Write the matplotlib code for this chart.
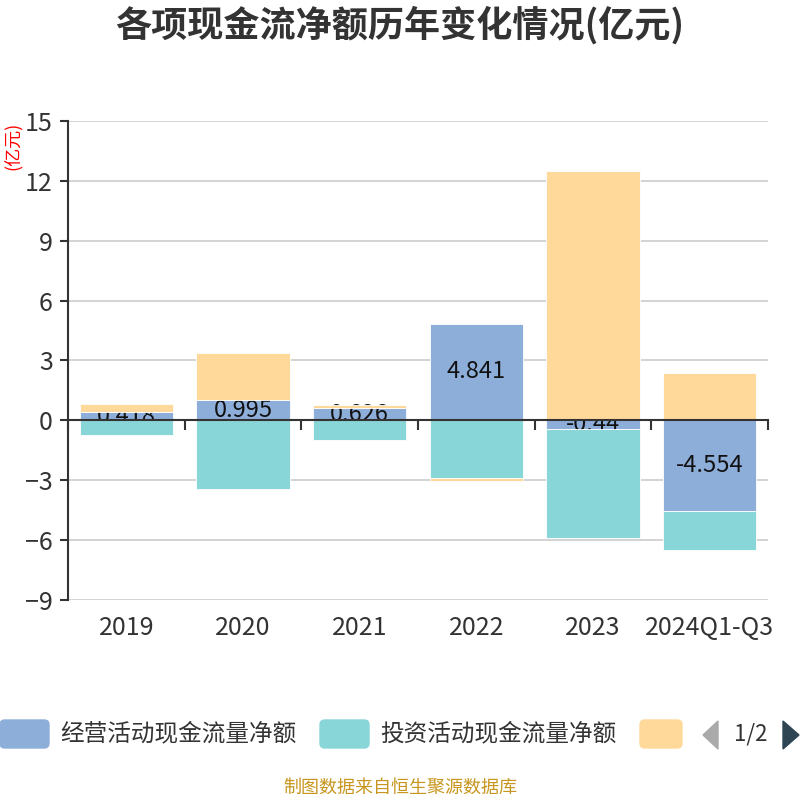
import numpy as np
import matplotlib.pyplot as plt
from matplotlib.patches import FancyBboxPatch, Polygon

plt.rcParams['font.family'] = ['Noto Sans CJK SC', 'DejaVu Sans']

years = ['2019', '2020', '2021', '2022', '2023', '2024Q1-Q3']
operating = [0.418, 0.995, 0.626, 4.841, -0.44, -4.554]
investing = [-0.72, -3.45, -1.0, -2.87, -5.43, -1.95]
financing = [0.42, 2.39, 0.16, -0.18, 12.47, 2.37]
names = ['经营活动现金流量净额', '投资活动现金流量净额', '筹资活动现金流量净额']
colors = ['#8eaeda', '#88d6d8', '#fed99a']

fig = plt.figure(figsize=(8, 8), dpi=100)
ax = fig.add_axes([0.085, 0.25, 0.875, 0.599])

x = np.arange(len(years))
w = 0.8
pos_base = np.zeros(len(years))
neg_base = np.zeros(len(years))
zs = [2, 3, 3]
for k, vals in enumerate([operating, investing, financing]):
	vals = np.array(vals)
	bottom = np.where(vals >= 0, pos_base, neg_base)
	ax.bar(x, vals, w, bottom=bottom, color=colors[k], edgecolor='white', linewidth=0.6, zorder=zs[k])
	if k == 0:
		for i, v in enumerate(vals):
			ax.text(x[i], bottom[i] + v / 2, f'{v:g}', ha='center', va='center', fontsize=17, color='#111111', zorder=2.5)
	pos_base = pos_base + np.where(vals >= 0, vals, 0)
	neg_base = neg_base + np.where(vals < 0, vals, 0)

ax.set_xlim(-0.5, len(years) - 0.5)
ax.set_ylim(-9, 15)
ax.set_yticks(np.arange(-9, 16, 3))
ax.yaxis.grid(True, color='#cccccc', linewidth=1.2)
ax.set_axisbelow(True)
for s in ['top', 'right', 'bottom']:
	ax.spines[s].set_visible(False)
ax.spines['left'].set_color('#333333')
ax.spines['left'].set_linewidth(1.5)
ax.tick_params(axis='y', length=6, width=1.5, color='#333333', labelsize=18, labelcolor='#333333', pad=5)
ax.set_xticks(x)
ax.set_xticklabels(years)
ax.tick_params(axis='x', length=0, labelsize=18, labelcolor='#333333', pad=11)

# zero axis line with boundary ticks
zero = ax.secondary_xaxis(9 / 24)
zero.set_xticks(np.arange(-0.5, len(years), 1))
zero.set_xticklabels([])
zero.tick_params(length=7, width=1.5, color='#333333', direction='out')
zero.spines['bottom'].set_color('#333333')
zero.spines['bottom'].set_linewidth(1.5)
zero.set_zorder(5)

ax.set_ylabel('(亿元)', color='red', fontsize=13)
ax.yaxis.set_label_coords(-0.066, 0.948)

fig.text(0.5, 0.968, '各项现金流净额历年变化情况(亿元)', ha='center', va='center', fontsize=26, fontweight='bold', color='#333333')

# legend (paged, third label hidden)
lx = [0.0, 0.4, 0.8]
for k in range(3):
	wd = 49 if k < 2 else 42
	fig.patches.append(FancyBboxPatch((lx[k], 1 - 748 / 800), wd / 800, 28 / 800,
		boxstyle='round,pad=0,rounding_size=0.006', transform=fig.transFigure, color=colors[k]))
	if k < 2:
		fig.text(lx[k] + 60 / 800, 1 - 734 / 800, names[k], ha='left', va='center', fontsize=17, color='#333333')
fig.patches.append(Polygon([[718 / 800, 1 - 721 / 800], [718 / 800, 1 - 749 / 800], [703 / 800, 1 - 735 / 800]],
	closed=True, transform=fig.transFigure, color='#aaaaaa'))
fig.patches.append(Polygon([[783 / 800, 1 - 721 / 800], [783 / 800, 1 - 749 / 800], [799 / 800, 1 - 735 / 800]],
	closed=True, transform=fig.transFigure, color='#2f4554'))
fig.text(751 / 800, 1 - 734 / 800, '1/2', ha='center', va='center', fontsize=16, color='#333333')

fig.text(0.5, 1 - 788 / 800, '制图数据来自恒生聚源数据库', ha='center', va='center', fontsize=13, color='#c8961e')

plt.savefig('out.png')
